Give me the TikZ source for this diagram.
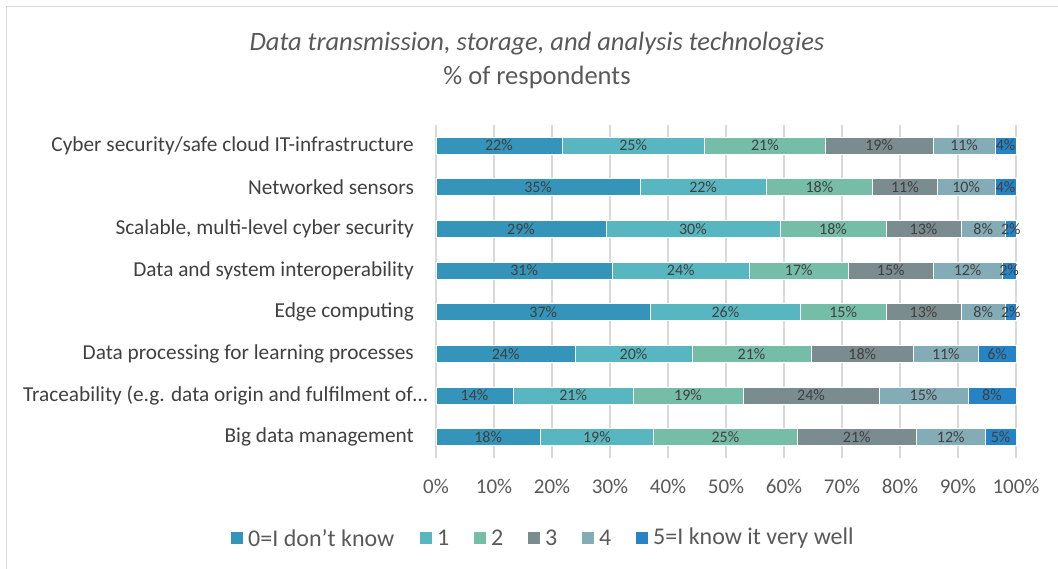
\documentclass[tikz,border=0pt]{standalone}
\usepackage{fontspec}
\setmainfont{Carlito}
\definecolor{c1}{HTML}{3494BA}
\definecolor{c2}{HTML}{58B6C0}
\definecolor{c3}{HTML}{75BDA7}
\definecolor{c4}{HTML}{7A8C8E}
\definecolor{c5}{HTML}{84ACB6}
\definecolor{c6}{HTML}{2683C6}
\definecolor{gridc}{HTML}{D9D9D9}
\definecolor{txtdark}{HTML}{404040}
\definecolor{txtmid}{HTML}{595959}
\tikzset{
  title/.style={text=txtmid, font=\fontsize{26.5}{30}\selectfont, inner sep=0pt},
  catlab/.style={text=txtdark, font=\fontsize{21.3}{24}\selectfont, inner sep=0pt, anchor=east},
  barlab/.style={text=txtdark, font=\fontsize{16}{19}\selectfont, inner sep=0pt},
  axlab/.style={text=txtmid, font=\fontsize{21}{24}\selectfont, inner sep=0pt},
  leglab/.style={text=txtmid, font=\fontsize{24}{28}\selectfont, inner sep=0pt, anchor=west},
  legsq/.style={minimum size=12pt, inner sep=0pt},
  grid line/.style={draw=gridc, line width=1.5pt},
  seg/.style={draw=white, line width=0.5pt}
}
\begin{document}
\begin{tikzpicture}[x=1pt, y=-1pt]
\useasboundingbox (0,0) rectangle (1058,568);
% chart frame
\draw[gridc, line width=1.5pt] (6.5,570) -- (6.5,6.5) -- (1060,6.5);
% title
\node[title] (t1) at (537,44) {\itshape Data transmission, storage, and analysis technologies};
\node[title] (t2) at (537,77) {\% of respondents};
% grid
\foreach \k in {0,...,10} {
  \draw[grid line] ({436+58*\k},125) -- ({436+58*\k},458);
  \node[axlab] (ax\k) at ({436+58*\k},486.5) {\the\numexpr\k*10\relax\%};
}
% bars
\foreach [count=\r from 0] \cat/\cx/\bnd in {
  {Cyber security/safe cloud IT-infrastructure}/414/{21.7/22,46.3/25,67.1/21,85.7/19,96.4/11,100/4},
  {Networked sensors}/414/{35.2/35,56.9/22,75.3/18,86.4/11,96.4/10,100/4},
  {Scalable, multi-level cyber security}/414/{29.3/29,59.3/30,77.6/18,90.5/13,98.2/8,100/2},
  {Data and system interoperability}/414/{30.4/31,54.0/24,71.1/17,85.7/15,97.6/12,100/2},
  {Edge computing}/414/{37.0/37,62.8/26,77.6/15,90.5/13,98.2/8,100/2},
  {Data processing for learning processes}/414/{24.0/24,44.1/20,64.7/21,82.3/18,93.5/11,100/6},
  {Traceability (e.g. data origin and fulfilment of…}/428/{13.3/14,34.0/21,52.9/19,76.4/24,91.7/15,100/8},
  {Big data management}/414/{18.0/18,37.5/19,62.3/25,82.8/21,94.7/12,100/5}} {
  \pgfmathsetmacro{\yc}{145.5+41.64*\r}
  \node[catlab] (cat\r) at (\cx,\yc) {\cat};
  \foreach \e/\l [count=\i, remember=\e as \s (initially 0)] in \bnd {
    \fill[c\i, seg] ({436+5.8*\s},\yc-8.5) rectangle ({436+5.8*\e},\yc+8.5);
    \node[barlab] (b\r-\i) at ({436+5.8*(\s+\e)/2},\yc) {\l\%};
  }
}
% legend
\foreach \sx/\tx/\t [count=\i] in {231/248/{0=I don’t know}, 420/437/1, 474/491/2, 528/545/3, 582/599/4, 636/653/{5=I know it very well}} {
  \node[legsq, fill=c\i] (ls\i) at ({\sx+6},538) {};
  \node[leglab] (lt\i) at (\tx,538) {\t};
}
\end{tikzpicture}
\end{document}
